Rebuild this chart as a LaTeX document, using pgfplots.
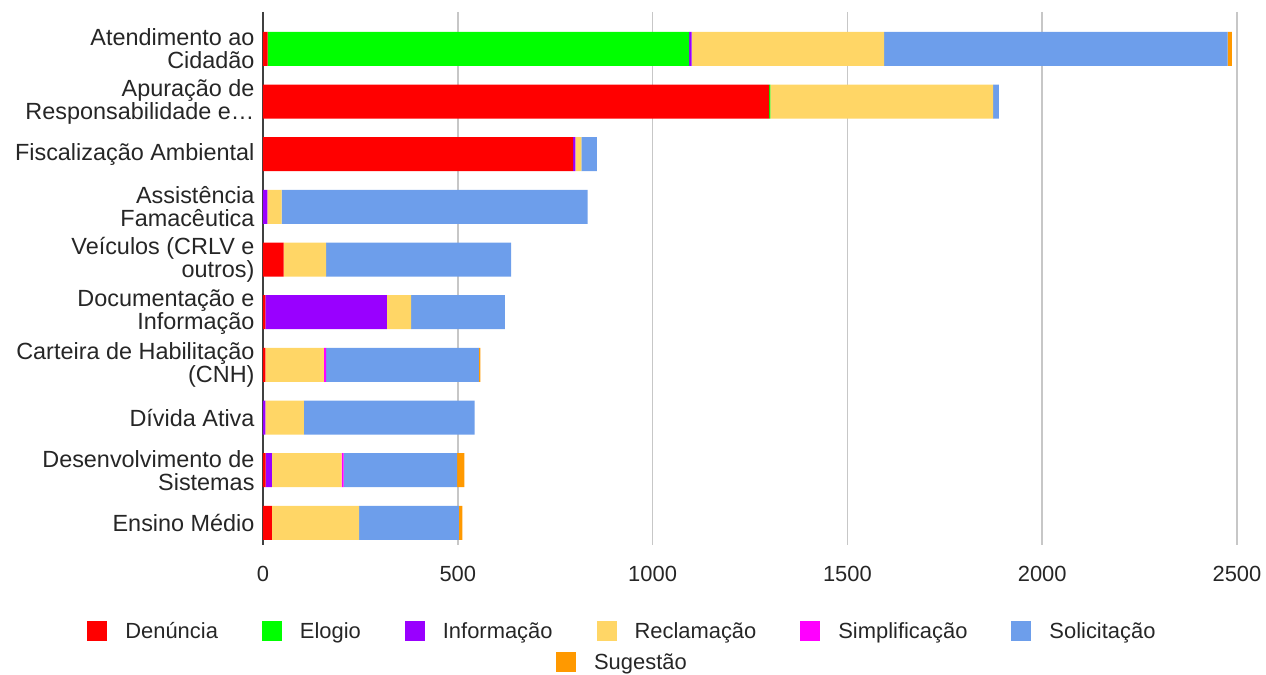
\documentclass[border=0pt]{standalone}
\usepackage{pgfplots}
\pgfplotsset{compat=1.18}
\usepackage{fontspec}
\setmainfont{Liberation Sans}

\definecolor{cDen}{HTML}{FF0000}
\definecolor{cElo}{HTML}{00FF00}
\definecolor{cInf}{HTML}{9900FF}
\definecolor{cRec}{HTML}{FFD666}
\definecolor{cSim}{HTML}{FF00FF}
\definecolor{cSol}{HTML}{6D9EEB}
\definecolor{cSug}{HTML}{FF9900}

\pgfplotsset{
  sq/.style={legend image code/.code={\fill[##1] (0bp,-10bp) rectangle (20bp,10bp);}},
  leg/.style={
    legend style={draw=none, fill=none, anchor=center,
      font=\fontsize{22}{24}\selectfont, text=black!85,
      nodes={inner xsep=0pt, inner ysep=2bp},
      /tikz/every odd column/.append style={column sep=18bp},
      /tikz/every even column/.append style={column sep=44bp}},
  },
}

\begin{document}
\begin{tikzpicture}
\useasboundingbox (-263bp,-130bp) rectangle (1003bp,545bp);
\begin{axis}[
  at={(0,0)}, anchor=south west,
  scale only axis, width=974bp, height=533bp,
  xbar stacked, bar width=34bp,
  y dir=reverse,
  xmin=0, xmax=2500, ymin=-0.70, ymax=9.42,
  xtick={0,500,...,2500},
  ytick={0,...,9},
  yticklabels={{Atendimento ao\\Cidadão},{Apuração de\\Responsabilidade e…},
    {Fiscalização Ambiental},{Assistência\\Famacêutica},{Veículos (CRLV e\\outros)},
    {Documentação e\\Informação},{Carteira de Habilitação\\(CNH)},{Dívida Ativa},
    {Desenvolvimento de\\Sistemas},{Ensino Médio}},
  yticklabel style={align=right, font=\fontsize{23.5}{23}\selectfont, text=black!85, xshift=-5bp},
  xticklabel style={font=\fontsize{22}{24}\selectfont, text=black!85, yshift=-18bp},
  /pgf/number format/assume math mode=true,
  /pgf/number format/1000 sep={},
  major tick length=0pt,
  axis lines*=left,
  x axis line style={draw=none},
  y axis line style={draw=black!75, line width=2bp},
  xmajorgrids, major grid style={black!22, line width=1.5bp},
  every axis plot/.append style={draw=none},
  sq, leg,
  legend columns=6,
  legend style={at={(0.368,-0.161)}},
]
\addplot[fill=cDen] coordinates {(12,0) (1299,1) (796,2) (0,3) (53,4) (6,5) (6,6) (0,7) (7,8) (23,9)};
\addplot[fill=cElo] coordinates {(1082,0) (3,1) (0,2) (0,3) (0,4) (0,5) (0,6) (0,7) (0,8) (0,9)};
\addplot[fill=cInf] coordinates {(6,0) (0,1) (6,2) (11,3) (0,4) (312,5) (0,6) (6,7) (16,8) (0,9)};
\addplot[fill=cRec] coordinates {(494,0) (572,1) (15,2) (37,3) (109,4) (62,5) (150,6) (99,7) (179,8) (224,9)};
\addplot[fill=cSim] coordinates {(0,0) (0,1) (0,2) (0,3) (0,4) (0,5) (6,6) (0,7) (5,8) (0,9)};
\addplot[fill=cSol] coordinates {(882,0) (15,1) (40,2) (785,3) (475,4) (241,5) (392,6) (438,7) (291,8) (256,9)};
\addplot[fill=cSug, forget plot] coordinates {(11,0) (0,1) (0,2) (0,3) (0,4) (0,5) (4,6) (0,7) (19,8) (9,9)};
\legend{Denúncia,Elogio,Informação,Reclamação,Simplificação,Solicitação}
\end{axis}
\begin{axis}[
  at={(0,0)}, anchor=south west,
  scale only axis, width=974bp, height=533bp,
  hide axis, xmin=0, xmax=1, ymin=0, ymax=1,
  sq, leg,
  legend style={at={(0.368,-0.2195)}},
]
\addlegendimage{fill=cSug, draw=none}
\addlegendentry{Sugestão}
\end{axis}
\end{tikzpicture}
\end{document}
